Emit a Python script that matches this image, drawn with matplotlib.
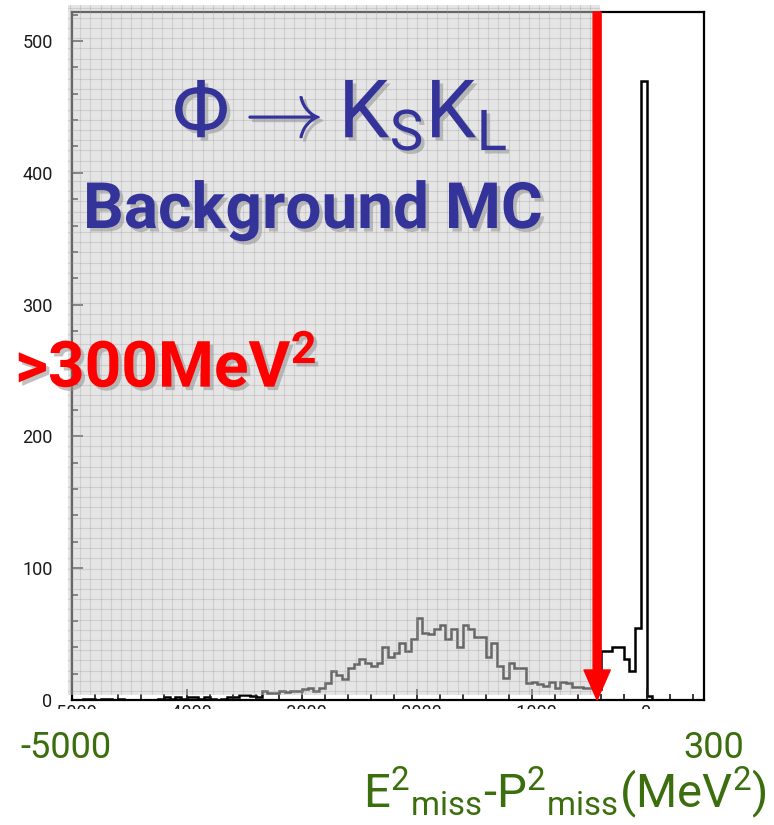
import numpy as np
import matplotlib.pyplot as plt
import matplotlib.patheffects as pe
from matplotlib.patches import Rectangle
from matplotlib.ticker import MultipleLocator

plt.rcParams['font.family'] = ['Roboto', 'DejaVu Sans']
plt.rcParams['mathtext.fontset'] = 'custom'
plt.rcParams['mathtext.rm'] = 'Roboto'
plt.rcParams['mathtext.it'] = 'Roboto'
plt.rcParams['mathtext.bf'] = 'Roboto:bold'

# histogram of E^2_miss - P^2_miss, 50 MeV^2 bins from -5000 to 500
bin_lo = -5000
bin_hi = 500
bin_width = 50
counts = [
    # -5000 .. -4000
    0, 0, 1, 1, 0, 1, 1, 0, 1, 0, 0, 0, 0, 0, 0, 1, 2, 1, 2, 1, 2,
    # -3950 .. -3000
    2, 1, 2, 1, 0, 1, 2, 2, 4, 4, 3, 2, 7, 5, 5, 7, 6, 7, 7, 8,
    # -2950 .. -1500
    9, 7, 9, 13, 22, 19, 16, 24, 27, 31, 28, 26, 28, 40, 33,
    36, 43, 37, 46, 62, 51, 50, 54, 57, 46, 54, 40, 57, 54, 48,
    # -1450 .. -450
    48, 33, 43, 26, 17, 28, 24, 24, 13, 14, 12, 11, 14, 9, 14, 13, 10, 10, 9, 9, 8,
    # -400 .. -50
    37, 37, 40, 40, 31, 22, 55, 470,
    # 0 .. 450
    3, 0, 0, 0, 0, 0, 0, 0, 0, 0,
]
y_top = 522
cut_value = -430

title_line1 = r'$\Phi\rightarrow\mathrm{K_{S}K_{L}}$'
title_line2 = 'Background MC'
cut_label = r'>300MeV$^{\mathbf{2}}$'
range_left = '-5000'
range_right = '300'
x_title = r'E$^{2}{}_{\mathrm{miss}}$-P$^{2}{}_{\mathrm{miss}}$(MeV$^{2}$)'

W, H = 774, 825
fig = plt.figure(figsize=(W / 100, H / 100), dpi=100)


def fx(px):
    return px / W


def fy(py):
    return 1 - py / H


ax = fig.add_axes([fx(72), fy(700), (704 - 72) / W, (700 - 12) / H])
edges = np.arange(bin_lo, bin_hi + bin_width, bin_width)
ax.stairs(counts, edges, color='black', lw=1.8)
ax.set_xlim(bin_lo, bin_hi)
ax.set_ylim(0, y_top)

ax.xaxis.set_major_locator(MultipleLocator(1000))
ax.xaxis.set_minor_locator(MultipleLocator(200))
ax.yaxis.set_major_locator(MultipleLocator(100))
ax.yaxis.set_minor_locator(MultipleLocator(20))
ax.tick_params(which='both', direction='in', width=1.2, colors='#1a1a1a')
ax.tick_params(which='major', length=8)
ax.tick_params(which='minor', length=4.5)
ax.tick_params(axis='y', labelsize=13, pad=14)
ax.tick_params(axis='x', labelsize=13, pad=3)
for s in ax.spines.values():
    s.set_linewidth(1.6)

# translucent grey box with grid pattern over the left part of the plot
ov = fig.add_axes([fx(68), fy(695), (600 - 68) / W, (695 - 5) / H], zorder=5)
ov.set_xlim(0, 532)
ov.set_ylim(0, 690)
ov.axis('off')
ov.add_patch(Rectangle((0, 0), 532, 690, facecolor='#cccccc', alpha=0.5, lw=0))
for gx in np.arange(2, 532, 10.2):
    ov.axvline(gx, color='#999999', alpha=0.3, lw=0.8)
for gy in np.arange(4, 690, 10.2):
    ov.axhline(gy, color='#999999', alpha=0.3, lw=0.8)

# red cut arrow
ov.annotate('', xy=(cut_value, 0), xycoords=ax.transData,
            xytext=(cut_value, y_top), textcoords=ax.transData,
            arrowprops=dict(arrowstyle='simple,head_length=1.2,head_width=1.05,tail_width=0.32',
                            mutation_scale=18, color='#ff0000', shrinkA=0, shrinkB=0),
            annotation_clip=False, zorder=10)

# hide lower half of the x tick labels
fig.add_artist(Rectangle((fx(30), fy(726)), (720 - 30) / W, (726 - 709) / H,
                         transform=fig.transFigure, facecolor='white', lw=0, zorder=3))

shadow = [pe.withSimplePatchShadow(offset=(2.5, -2.5), shadow_rgbFace='#999999', alpha=0.6)]
blue = '#333399'
green = '#3b6e0c'

fig.text(fx(172), fy(138), title_line1, color=blue, fontsize=58, ha='left', va='baseline',
         zorder=20, path_effects=shadow)
fig.text(fx(83), fy(228), title_line2, color=blue, fontsize=46, fontweight='bold',
         ha='left', va='baseline', zorder=20, path_effects=shadow)
fig.text(fx(15), fy(387), cut_label, color='#ff0000', fontsize=46, fontweight='bold',
         ha='left', va='baseline', zorder=20, path_effects=shadow)

fig.text(fx(20), fy(758), range_left, color=green, fontsize=26, ha='left', va='baseline')
fig.text(fx(683), fy(758), range_right, color=green, fontsize=26, ha='left', va='baseline')
fig.text(fx(363), fy(807), x_title, color=green, fontsize=34, ha='left', va='baseline')

fig.savefig('out.png', dpi=100)
